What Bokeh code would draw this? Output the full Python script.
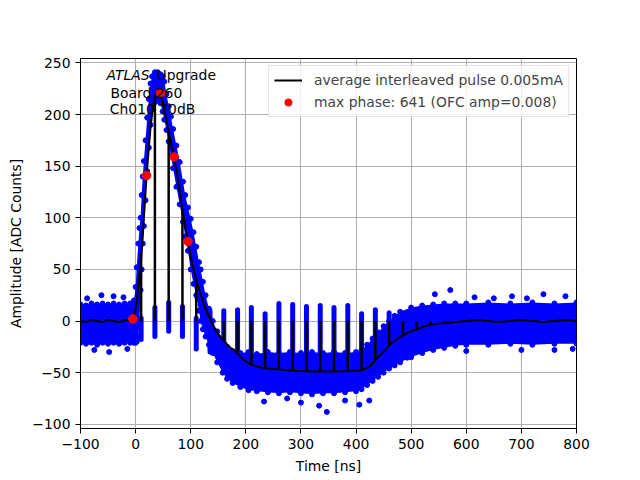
from bokeh.plotting import figure
from bokeh.models import (Range1d, FixedTicker, ColumnDataSource, Label,
                          CustomJSTickFormatter, Legend, LegendItem)
from bokeh.embed import file_html
from bokeh.resources import INLINE

# ---------------- data ----------------
# average interleaved pulse (black line)
pulse_t = [-100, -90, -80, -70, -60, -50, -40, -30, -20, -10, -5, 0, 3, 7, 12, 16, 20, 24, 27, 31,
           36, 40, 44, 49, 54, 60, 65, 70, 76, 81, 85, 90, 95, 100, 106, 112, 118, 125, 130, 136,
           142, 148, 155, 160, 170, 184, 195, 208, 220, 239, 260, 280, 300, 330, 360, 390, 408,
           418, 425, 432, 440, 448, 456, 465, 480, 495, 511, 525, 541, 560, 580, 600, 620, 640,
           660, 680, 700, 720, 740, 760, 780, 800]
pulse_y = [0, -1, 1, 0, -1, 1, 0, -1, 1, 0, 1, 12, 23, 45, 74, 108, 141, 168, 187, 205,
           220, 224, 221, 212, 200, 183, 171, 158, 140, 122, 108, 92, 77, 62, 48, 36, 26, 15, 8, 1,
           -6, -11, -16, -19, -25, -31, -37, -42, -44, -46, -47, -48, -48.5, -49, -49, -48.5, -48,
           -46, -44, -40, -35, -31, -26, -21, -15.5, -11, -8, -5, -3, -2, -1, 0, 1, 0,
           -1, 0, 1, 0, -1, 0, 1, 0]

# interleaving gaps: the average drops to zero at these times
spike_t = [10, 35, 60, 85, 110, 160, 185, 210, 235, 260, 285, 310, 335, 360, 385, 410,
           435, 460, 485, 510, 535, 560]
spike_from = [65, 218, 183, 107, 40, -19, -31, -42, -46, -47, -48, -48.5, -49, -49, -48.5, -48,
              -38, -24, -14, -8, -4, -2]
spike_to = [0] * len(spike_t)

# max phase samples (red)
max_t = [-5, 20, 45, 70, 95]
max_y = [2, 141, 221, 159, 77]

# envelope of the blue sample cloud
cloud_t = [-100, -90, -80, -70, -60, -50, -40, -30, -20, -10, -3, 0, 2, 5, 7, 9, 11, 13, 15, 18,
           21, 24, 27, 30, 35, 40, 45, 49, 52, 56, 60, 64, 68, 74, 80, 86, 90, 95, 100, 105,
           110, 115, 118, 122, 127, 133, 140, 148, 158, 166, 176, 190, 205, 220, 240, 260, 280,
           300, 320, 340, 360, 380, 400, 410, 420, 430, 440, 450, 460, 470, 480, 500, 520, 540,
           560, 580, 600, 640, 680, 720, 760, 800]
cloud_hi = [16, 15, 17, 16, 17, 16, 17, 16, 17, 17, 20, 33, 52, 75, 90, 100, 122, 140, 155, 175,
            197, 215, 230, 237, 241, 241, 239, 237, 232, 220, 208, 198, 186, 170, 154, 135, 122, 110, 99, 86,
            72, 57, 50, 38, 25, 12, 0, -10, -20, -25, -29, -31, -30, -32, -30, -31, -30,
            -31, -30, -31, -30, -31, -30, -28, -23, -17, -11, -5, 0, 5, 9, 13, 15, 16,
            17, 17, 17, 18, 17, 18, 17, 18]
cloud_lo = [-21, -22, -21, -23, -21, -22, -21, -22, -21, -21, -21, -21, -20, -15, 0, 30, 50, 75, 92, 117,
            145, 168, 190, 205, 212, 215, 211, 203, 195, 185, 174, 160, 148, 130, 113, 96, 82, 68, 50, 36,
            25, 10, 0, -8, -15, -23, -31, -40, -50, -56, -60, -64, -67, -68, -69, -70, -69,
            -70, -71, -70, -70, -69, -68, -66, -62, -58, -54, -50, -46, -43, -40, -35, -31, -28,
            -26, -24, -23, -23, -22, -23, -22, -22]

# columns of samples near zero at the gap times
col_t = [10, 35, 60, 85, 110, 135, 160, 185, 210, 235, 260, 285, 310, 335, 360, 385, 410, 435, 460]
col_lo = [-18, -15, -10, -15, -27, -30, -35, -35, -35, -35, -35, -35, -35, -35, -35, -35, -35, -30, -20]
col_hi = [3, 13, 18, 14, 3, 10, 10, 11, 13, 7, 17, 16, 14, 15, 13, 15, 7, 11, 8]

# isolated samples
out_t = [-88, -62, -40, -22, -75, -48, -15, 233, 275, 300, 333, 347, 380, 406, 424,
         543, 571, 615, 650, 683, 710, 740, 780, 493, 600, 700, 760, 793]
out_y = [22, 25, 24, 23, -28, -30, -27, -78, -75, -79, -82, -88, -77, -81, -77,
         26, 30, 23, 22, 24, 22, 26, 24, -35.5, -29, -28, -28, -27]

x_ticks = [-100, 0, 100, 200, 300, 400, 500, 600, 700, 800]
y_ticks = [-100, -50, 0, 50, 100, 150, 200, 250]

# ---------------- figure ----------------
FONT = "DejaVu Sans"
FS = "13.9px"
BLUE = "#0000ff"

p = figure(frame_width=496, frame_height=370,
           min_border_left=80, min_border_right=56, min_border_top=58, min_border_bottom=44,
           x_range=Range1d(-100, 800), y_range=Range1d(-104.1, 254.3),
           output_backend="svg", toolbar_location=None)
p.background_fill_color = "white"
p.border_fill_color = "white"
p.outline_line_color = "black"
p.outline_line_width = 1

fmt = CustomJSTickFormatter(code="return tick < 0 ? '\u2212' + Math.abs(tick) : tick.toString();")
for ax, ticks in ((p.xaxis[0], x_ticks), (p.yaxis[0], y_ticks)):
    ax.ticker = FixedTicker(ticks=ticks)
    ax.formatter = fmt
    ax.axis_line_color = "black"
    ax.major_tick_line_color = "black"
    ax.major_tick_out = 5
    ax.major_tick_in = 0
    ax.minor_tick_out = 0
    ax.minor_tick_in = 0
    ax.major_label_text_font = FONT
    ax.major_label_text_font_size = FS
    ax.major_label_text_color = "black"
    ax.axis_label_text_font = FONT
    ax.axis_label_text_font_size = FS
    ax.axis_label_text_font_style = "normal"
    ax.axis_label_text_color = "black"
p.xaxis.axis_label = "Time [ns]"
p.yaxis.axis_label = "Amplitude [ADC Counts]"
p.xaxis.axis_label_standoff = 6
p.yaxis.axis_label_standoff = 5

p.xgrid.ticker = FixedTicker(ticks=x_ticks)
p.ygrid.ticker = FixedTicker(ticks=y_ticks)
p.grid.grid_line_color = "#b0b0b0"
p.grid.grid_line_width = 1.1

# blue cloud
cloud = ColumnDataSource(dict(t=cloud_t, hi=cloud_hi, lo=cloud_lo))
p.varea(x="t", y1="lo", y2="hi", source=cloud, fill_color=BLUE)
p.scatter(x="t", y="hi", source=cloud, size=5, color=BLUE)
p.scatter(x="t", y="lo", source=cloud, size=5, color=BLUE)
cols = ColumnDataSource(dict(t=col_t, lo=col_lo, hi=col_hi))
p.segment(x0="t", y0="lo", x1="t", y1="hi", source=cols, line_color=BLUE,
          line_width=5, line_cap="round")
p.scatter(x=out_t, y=out_y, size=5, color=BLUE)

# black average pulse
pulse_r = p.line(x=pulse_t, y=pulse_y, line_color="black", line_width=2)
spk = ColumnDataSource(dict(t=spike_t, a=spike_from, b=spike_to))
p.segment(x0="t", y0="a", x1="t", y1="b", source=spk, line_color="black", line_width=2.5)

# red max phase
max_r = p.scatter(x=max_t, y=max_y, size=8.5, color="#ff0000")

legend = Legend(items=[
    LegendItem(label="average interleaved pulse 0.005mA", renderers=[pulse_r]),
    LegendItem(label="max phase: 641 (OFC amp=0.008)", renderers=[max_r]),
], location="top_right")
legend.label_text_font = FONT
legend.label_text_font_size = FS
legend.border_line_color = "#cccccc"
legend.border_line_width = 1
legend.background_fill_alpha = 0.8
legend.glyph_width = 28
legend.glyph_height = 18
legend.label_height = 18
legend.spacing = 4
legend.padding = 5
legend.margin = 7
legend.label_standoff = 12
p.add_layout(legend)

# annotation text
for x, y, txt, style in ((-52.8, 238.4, "ATLAS", "italic"),
                         (38, 238.4, "Upgrade", "normal"),
                         (-45.6, 221, "Board 260", "normal"),
                         (-46.8, 205.5, "Ch010 70dB", "normal")):
    p.add_layout(Label(x=x, y=y, text=txt, text_font=FONT, text_font_size=FS,
                       text_font_style=style, text_baseline="middle", text_color="black"))

open("out.html", "w").write(file_html(p, INLINE))
